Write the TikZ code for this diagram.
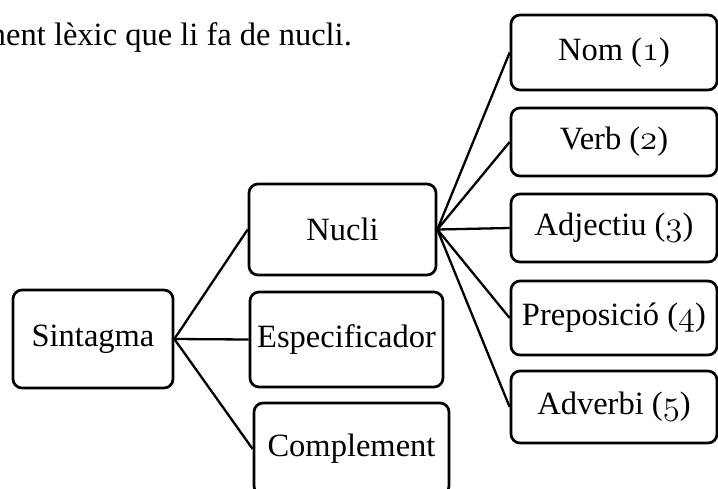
\documentclass[tikz,border=0pt]{standalone}
\usepackage{fontspec}
\setmainfont{Liberation Serif}
\newcommand{\osn}[1]{\scalebox{1.4}{\usefont{OML}{cmm}{m}{it}#1}}
\begin{document}
\begin{tikzpicture}[x=1pt,y=-1pt,
  font=\fontsize{32.5}{39}\selectfont,
  bx/.style={draw, line width=2.7pt, rounded corners=9pt, inner sep=0pt, align=center},
  ln/.style={line width=2.3pt}]
\useasboundingbox (0,0) rectangle (718,488);
\node[anchor=base east, inner sep=0pt] (top) at (352,45) {ment lèxic que li fa de nucli.};
% left
\node[bx, minimum width=160pt, minimum height=98pt] (sin) at (93,339) {Sintagma};
\node[bx, minimum width=187pt, minimum height=91pt] (nuc) at (342.5,229.5) {Nucli};
\node[bx, minimum width=193pt, minimum height=95pt] (esp) at (346.5,339.5) {Especificador};
\node[bx, minimum width=195pt, minimum height=92pt] (com) at (351.5,449) {Complement};
% right
\node[bx, minimum width=206pt, minimum height=75pt] (nom) at (614,52.5) {Nom (\osn{1})};
\node[bx, minimum width=206pt, minimum height=68pt] (ver) at (614,142) {Verb (\osn{2})};
\node[bx, minimum width=206pt, minimum height=68pt] (adj) at (614,228) {Adjectiu (\osn{3})};
\node[bx, minimum width=206pt, minimum height=74pt] (pre) at (614,318) {Preposició (\osn{4})};
\node[bx, minimum width=206pt, minimum height=72pt] (adv) at (614,407) {Adverbi (\osn{5})};
% connectors
\draw[ln] (sin.east) -- (nuc.west);
\draw[ln] (sin.east) -- (esp.west);
\draw[ln] (sin.east) -- (com.west);
\draw[ln] (nuc.east) -- (nom.west);
\draw[ln] (nuc.east) -- (ver.west);
\draw[ln] (nuc.east) -- (adj.west);
\draw[ln] (nuc.east) -- (pre.west);
\draw[ln] (nuc.east) -- (adv.west);
\end{tikzpicture}
\end{document}
